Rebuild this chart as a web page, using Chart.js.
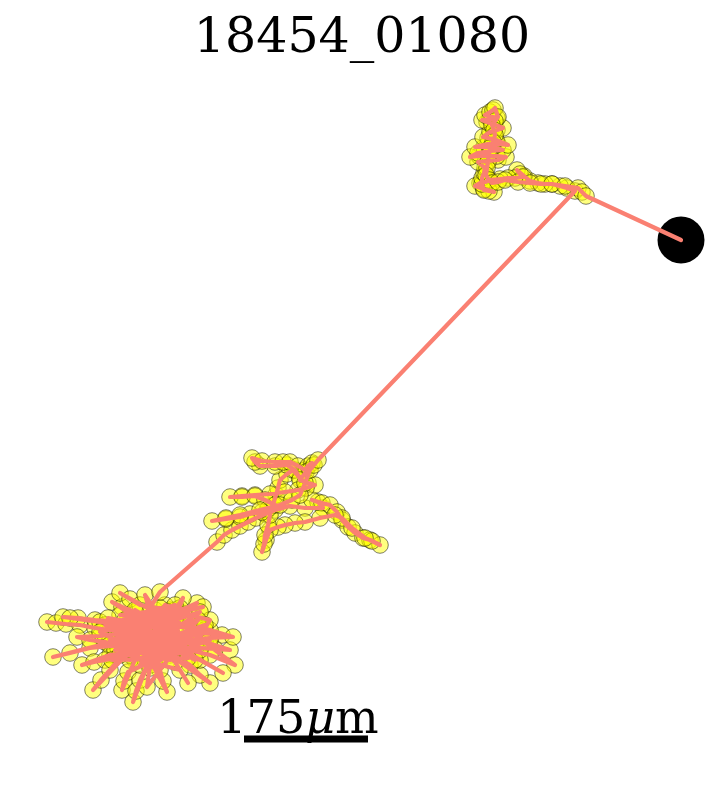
<!DOCTYPE html>
<html>
<head>
<meta charset="utf-8">
<script src="https://cdn.jsdelivr.net/npm/chart.js@4.4.1/dist/chart.umd.min.js"></script>
<style>
  html, body { margin: 0; padding: 0; background: #fff; }
  #wrap { width: 727px; height: 786px; }
</style>
</head>
<body>
<div id="wrap"><canvas id="track"></canvas></div>
<script>
// track positions, plot units (y grows downward)
const title = '18454_01080';
const scaleLabel = ['175', 'μ', 'm'];
const scaleBarStart = [244, 739];
const scaleBarLength = 124;

const bottomX = [47, 56, 66, 80, 95, 110, 140, 120, 53, 70, 90, 110, 130, 160, 190, 222, 200, 170, 140, 112, 122, 135, 165, 197, 185, 160, 130, 100, 77, 90, 105, 140, 170, 210, 200, 190, 165, 135, 122, 124, 128, 150, 180, 188, 175, 155, 133, 136, 140, 150, 167, 163, 160, 145, 110, 82, 94, 105, 130, 160, 200, 215, 230, 205, 175, 145, 93, 101, 110, 125, 150, 185, 210, 233, 210, 180, 150, 63, 78, 95, 130, 160, 120, 130, 140, 170, 203, 180, 150, 145, 155, 175, 235, 210, 180, 223, 200, 175, 147, 150, 160, 170, 183, 175, 160, 130, 70, 100, 135, 165, 195, 210, 190, 165, 140, 115, 150, 185, 160, 128, 170, 195, 145, 118, 180];
const bottomY = [622, 623, 624, 625, 628, 630, 628, 640, 657, 653, 648, 646, 645, 640, 632, 635, 628, 625, 620, 602, 607, 612, 618, 603, 615, 625, 632, 636, 637, 640, 642, 650, 655, 683, 675, 665, 650, 660, 690, 681, 672, 662, 670, 683, 662, 645, 702, 691, 680, 660, 692, 681, 670, 650, 655, 665, 662, 660, 655, 648, 648, 649, 650, 642, 638, 635, 690, 680, 670, 652, 640, 640, 638, 637, 630, 625, 628, 617, 618, 620, 622, 615, 593, 599, 605, 610, 607, 612, 612, 595, 610, 620, 665, 655, 648, 673, 660, 650, 687, 665, 650, 630, 598, 610, 620, 625, 618, 622, 630, 635, 645, 620, 615, 605, 640, 628, 622, 652, 658, 618, 642, 628, 660, 648, 608];

// criss-cross through the dense core of the lower cluster
const coreX = [120, 190, 110, 200, 130, 185, 105, 175, 140, 210, 115, 160, 195, 125, 205, 145, 100, 180, 150, 190, 118, 170, 135, 200, 128, 178, 108, 158, 198, 138, 168, 145, 188, 112, 162, 205, 132, 175, 150, 120, 160];
const coreY = [615, 625, 640, 612, 660, 650, 625, 605, 665, 640, 650, 608, 660, 620, 630, 655, 632, 615, 668, 638, 628, 660, 610, 650, 645, 630, 618, 662, 620, 638, 612, 628, 658, 660, 640, 625, 650, 642, 620, 655, 592];

const midX = [217, 224, 232, 240, 248, 256, 265, 275, 290, 305, 323, 318, 312, 322, 330, 337, 342, 348, 355, 363, 370, 380, 372, 365, 352, 342, 335, 320, 305, 295, 285, 278, 270, 266, 262, 264, 265, 268, 270, 273, 276, 278, 280, 287, 293, 300, 295, 287, 275, 260, 255, 252, 262, 275, 283, 290, 298, 305, 308, 312, 306, 300, 308, 315, 306, 298, 285, 270, 255, 242, 230, 242, 255, 265, 275, 268, 262, 250, 240, 226, 212, 226, 240, 260, 280, 292, 300, 305, 310, 314, 318];
const midY = [542, 535, 530, 526, 522, 518, 514, 510, 506, 508, 508, 502, 500, 503, 505, 512, 520, 527, 533, 538, 540, 545, 541, 538, 528, 518, 515, 518, 522, 523, 525, 527, 530, 540, 552, 544, 535, 525, 515, 505, 495, 488, 480, 474, 470, 478, 470, 465, 466, 466, 462, 458, 461, 462, 462, 462, 466, 470, 466, 463, 472, 480, 483, 485, 488, 490, 492, 494, 495, 496, 497, 497, 496, 500, 505, 509, 512, 514, 517, 519, 521, 518, 515, 510, 505, 500, 495, 483, 470, 465, 460];

const topX = [575, 567, 560, 552, 545, 538, 530, 524, 517, 520, 523, 515, 508, 500, 490, 485, 480, 475, 484, 494, 489, 484, 482, 482, 484, 485, 478, 488, 498, 506, 497, 488, 479, 470, 478, 490, 503, 493, 484, 475, 488, 498, 508, 496, 488, 483, 490, 497, 503, 493, 487, 482, 490, 497, 485, 490, 493, 495, 498, 495, 492, 494, 495, 493, 490, 489, 488, 487, 486, 489, 492, 498, 505, 518, 530, 541, 552, 565, 578, 582, 586];
const topY = [191, 188, 186, 184, 184, 183, 181, 176, 170, 174, 177, 178, 178, 179, 180, 182, 183, 186, 189, 192, 191, 190, 184, 178, 173, 168, 162, 161, 160, 157, 156, 156, 156, 157, 153, 151, 150, 147, 147, 147, 144, 144, 145, 140, 138, 137, 132, 130, 128, 124, 122, 120, 119, 118, 115, 112, 110, 108, 117, 121, 125, 130, 135, 142, 148, 155, 162, 168, 175, 180, 183, 182, 180, 182, 183, 184, 184, 186, 188, 192, 196];

const endPoint = [681, 240];

const pathX = bottomX.concat(coreX, midX, topX, [endPoint[0]]);
const pathY = bottomY.concat(coreY, midY, topY, [endPoint[1]]);
const track = pathX.map((x, i) => ({ x: x, y: pathY[i] }));

const textPlugin = {
  id: 'texts',
  afterDraw(chart) {
    const ctx = chart.ctx;
    ctx.save();
    ctx.fillStyle = '#000';
    ctx.textBaseline = 'alphabetic';
    ctx.textAlign = 'left';
    ctx.font = '49px "DejaVu Serif"';
    const tw = ctx.measureText(title).width;
    ctx.fillText(title, 362 - tw / 2, 52);

    const fonts = ['46px "DejaVu Serif"', 'italic 46px "DejaVu Serif"', '46px "DejaVu Serif"'];
    let widths = scaleLabel.map((s, i) => { ctx.font = fonts[i]; return ctx.measureText(s).width; });
    let total = widths.reduce((a, b) => a + b, 0);
    let x = 298 - total / 2;
    scaleLabel.forEach((s, i) => {
      ctx.font = fonts[i];
      ctx.fillText(s, x, 733);
      x += widths[i];
    });
    ctx.restore();
  }
};

new Chart(document.getElementById('track'), {
  type: 'scatter',
  data: {
    datasets: [
      {
        type: 'line',
        data: track,
        borderColor: '#fa8072',
        borderWidth: 4.2,
        borderJoinStyle: 'round',
        borderCapStyle: 'round',
        pointRadius: 0,
        fill: false,
        tension: 0,
        order: 0
      },
      {
        data: [{ x: endPoint[0], y: endPoint[1] }],
        pointRadius: 23.5,
        backgroundColor: '#000',
        borderWidth: 0,
        order: 1
      },
      {
        data: track.slice(0, -1),
        pointRadius: 8.3,
        backgroundColor: 'rgba(255,255,0,0.5)',
        borderColor: 'rgba(20,20,0,0.6)',
        borderWidth: 0.9,
        order: 2
      },
      {
        type: 'line',
        data: [{ x: scaleBarStart[0], y: scaleBarStart[1] }, { x: scaleBarStart[0] + scaleBarLength, y: scaleBarStart[1] }],
        borderColor: '#000',
        borderWidth: 7,
        borderCapStyle: 'butt',
        pointRadius: 0,
        order: 3
      }
    ]
  },
  options: {
    responsive: true,
    maintainAspectRatio: false,
    animation: false,
    layout: { padding: 0, autoPadding: false },
    plugins: { legend: { display: false }, tooltip: { enabled: false } },
    scales: {
      x: { type: 'linear', min: 0, max: 727, display: false },
      y: { type: 'linear', min: 0, max: 786, reverse: true, display: false }
    }
  },
  plugins: [textPlugin]
});
</script>
</body>
</html>
